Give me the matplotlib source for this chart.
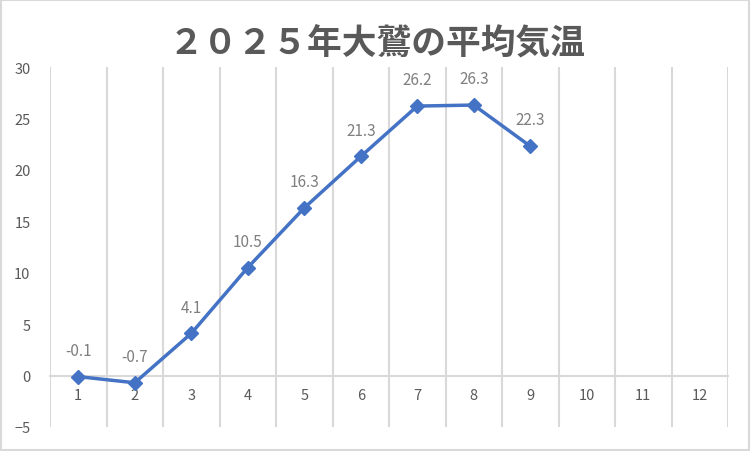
import numpy as np
import matplotlib
matplotlib.use('Agg')
import matplotlib.pyplot as plt
from matplotlib.patches import Rectangle

plt.rcParams['font.family'] = ['Noto Sans CJK JP', 'DejaVu Sans']

# data
title = '２０２５年大鷲の平均気温'
months = ['1', '2', '3', '4', '5', '6', '7', '8', '9', '10', '11', '12']
temps = [-0.1, -0.7, 4.1, 10.5, 16.3, 21.3, 26.2, 26.3, 22.3]
y_ticks = [-5, 0, 5, 10, 15, 20, 25, 30]

line_color = '#4472C4'
grid_color = '#D9D9D9'
text_color = '#595959'
label_color = '#7F7F7F'

fig = plt.figure(figsize=(7.51, 4.52), dpi=100)
ax = fig.add_axes([50 / 751, 1 - 428 / 452, 678 / 751, 360 / 452])

x = np.arange(1, len(temps) + 1)
ax.plot(x, temps, color=line_color, lw=2.5, marker='D', markersize=7.5,
        markeredgecolor=line_color, markerfacecolor=line_color, zorder=3)

for xi, v in zip(x, temps):
    ax.annotate(f'{v:.1f}', (xi, v), xytext=(0, 19), textcoords='offset points',
                ha='center', va='center', fontsize=11, color=label_color)

ax.set_xlim(0.5, len(months) + 0.5)
ax.set_ylim(y_ticks[0], y_ticks[-1])

ax.set_xticks(np.arange(1, len(months) + 1))
ax.set_xticklabels(months)
ax.set_xticks(np.arange(0.5, len(months) + 1), minor=True)
ax.tick_params(axis='x', which='both', length=0, pad=9, labelsize=10.5,
               colors=text_color)
ax.grid(axis='x', which='minor', color=grid_color, lw=1.5)

ax.set_yticks(y_ticks)
ax.tick_params(axis='y', length=0, pad=14, labelsize=10.5, colors=text_color)

for s in ['top', 'right', 'left']:
    ax.spines[s].set_visible(False)
ax.spines['bottom'].set_position(('data', 0))
ax.spines['bottom'].set_color(grid_color)
ax.spines['bottom'].set_linewidth(1.5)

fig.text(0.502, 1 - 44 / 452, title, ha='center', va='center', fontsize=25,
         fontweight='bold', color=text_color)

fig.patches.append(Rectangle((0.001, 0.002), 0.997, 0.995, transform=fig.transFigure,
                             fill=False, edgecolor=grid_color, lw=1.5))

fig.savefig('out.png', dpi=100)
